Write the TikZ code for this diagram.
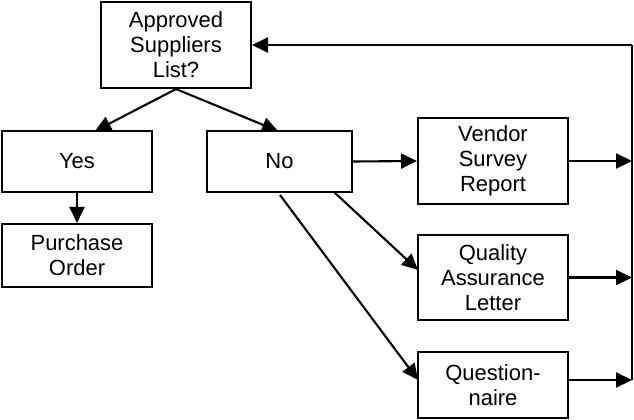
\documentclass[tikz,border=0pt]{standalone}
\usepackage{fontspec}
\setmainfont{Liberation Sans}
\usetikzlibrary{arrows.meta}
\begin{document}
\begin{tikzpicture}[x=0.02cm,y=-0.02cm,
  box/.style={draw,line width=1.2pt,inner sep=0pt,align=center,font=\fontsize{12.5}{14.2}\selectfont},
  arr/.style={line width=1.2pt,-{Triangle[length=0.32cm,width=0.3cm]}}]
\useasboundingbox (0,0) rectangle (634,419);
\node[box,minimum width=3cm,minimum height=1.72cm] (a) at (176,45) {Approved\\Suppliers\\List?};
\node[box,minimum width=3cm,minimum height=1.22cm] (y) at (77,161.5) {Yes};
\node[box,minimum width=2.9cm,minimum height=1.22cm] (n) at (279.5,161.5) {No};
\node[box,minimum width=3cm,minimum height=1.26cm] (p) at (77,255.5) {Purchase\\Order};
\node[box,minimum width=3cm,minimum height=1.72cm] (v) at (493,161) {Vendor\\Survey\\Report};
\node[box,minimum width=3cm,minimum height=1.7cm] (q) at (493,277.5) {Quality\\Assurance\\Letter};
\node[box,minimum width=3cm,minimum height=1.32cm] (u) at (493,385) {Question-\\naire};
\coordinate (t) at (632,45);
\coordinate (b) at (632,380);
\draw[arr] (a.south) -- (95,131);
\draw[arr] (a.south) -- (278,131);
\draw[arr] (y.south) -- (p.north);
\draw[arr] (n.east) -- (v.west);
\draw[arr] (334,192) -- (418,270);
\draw[arr] (280,195) -- (418,380);
\draw[line width=1.2pt] (b) -- (t);
\draw[arr] (t) -- (a.east);
\draw[arr] (v.east) -- (v.east -| b);
\draw[arr] (q.east) -- (q.east -| b);
\draw[arr] (568,380) -- (b);
\end{tikzpicture}
\end{document}
